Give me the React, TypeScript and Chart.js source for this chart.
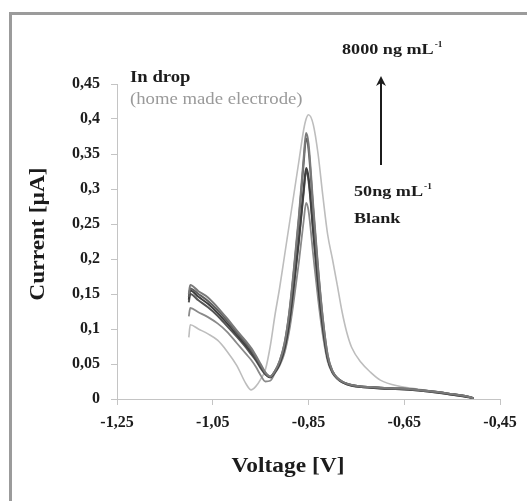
import { useEffect, useRef } from 'react';
import { Chart, registerables } from 'chart.js';

Chart.register(...registerables);

// Shared voltage grid [V]
const VOLTAGE = [
  -1.1, -1.097, -1.08, -1.06, -1.04, -1.02, -1.0, -0.98, -0.97, -0.96,
  -0.95, -0.94, -0.93, -0.92, -0.91, -0.9, -0.89, -0.88, -0.87, -0.86,
  -0.855, -0.85, -0.84, -0.83, -0.82, -0.81, -0.8, -0.79, -0.78, -0.77,
  -0.76, -0.74, -0.72, -0.7, -0.66, -0.62, -0.58, -0.55, -0.52, -0.505,
];

// Currents [µA]
const CURRENT_1 = [
  0.15, 0.163, 0.154, 0.145, 0.131, 0.115, 0.098, 0.082, 0.073, 0.062,
  0.05, 0.038, 0.032, 0.04, 0.055, 0.08, 0.125, 0.19, 0.262, 0.345,
  0.38, 0.365, 0.275, 0.188, 0.115, 0.063, 0.04, 0.03, 0.025, 0.022,
  0.02, 0.018, 0.017, 0.016, 0.015, 0.013, 0.01, 0.007, 0.004, 0.001,
];
const CURRENT_2 = [
  0.146, 0.158, 0.15, 0.14, 0.127, 0.112, 0.095, 0.079, 0.07, 0.059,
  0.048, 0.037, 0.032, 0.04, 0.054, 0.079, 0.123, 0.186, 0.257, 0.338,
  0.372, 0.357, 0.269, 0.184, 0.113, 0.062, 0.04, 0.03, 0.025, 0.022,
  0.02, 0.018, 0.017, 0.016, 0.015, 0.013, 0.01, 0.007, 0.004, 0.001,
];
const CURRENT_3 = [
  0.142, 0.155, 0.146, 0.136, 0.123, 0.108, 0.092, 0.076, 0.067, 0.057,
  0.046, 0.036, 0.031, 0.039, 0.051, 0.073, 0.111, 0.167, 0.229, 0.3,
  0.33, 0.317, 0.24, 0.165, 0.103, 0.058, 0.039, 0.029, 0.024, 0.021,
  0.019, 0.017, 0.016, 0.015, 0.014, 0.012, 0.009, 0.006, 0.003, 0.001,
];
const CURRENT_4 = [
  0.138, 0.15, 0.141, 0.131, 0.119, 0.104, 0.089, 0.073, 0.064, 0.055,
  0.044, 0.035, 0.031, 0.038, 0.051, 0.072, 0.11, 0.165, 0.226, 0.296,
  0.325, 0.312, 0.237, 0.163, 0.102, 0.058, 0.038, 0.03, 0.025, 0.022,
  0.02, 0.018, 0.017, 0.016, 0.015, 0.013, 0.01, 0.007, 0.004, 0.001,
];
const CURRENT_5 = [
  0.118, 0.13, 0.124, 0.117, 0.108, 0.096, 0.08, 0.064, 0.056, 0.046,
  0.034, 0.025, 0.026, 0.037, 0.048, 0.066, 0.098, 0.144, 0.196, 0.255,
  0.28, 0.269, 0.205, 0.143, 0.091, 0.054, 0.037, 0.029, 0.024, 0.021,
  0.019, 0.017, 0.016, 0.015, 0.014, 0.012, 0.009, 0.006, 0.003, 0.001,
];
const CURRENT_6 = [
  0.088, 0.106, 0.1, 0.093, 0.084, 0.068, 0.048, 0.021, 0.013, 0.018,
  0.028, 0.042, 0.075, 0.12, 0.16, 0.205, 0.25, 0.295, 0.34, 0.385,
  0.4, 0.406, 0.392, 0.35, 0.29, 0.235, 0.2, 0.163, 0.125, 0.095,
  0.074, 0.052, 0.038, 0.027, 0.018, 0.014, 0.01, 0.007, 0.004, 0.001,
];

const SERIES = [CURRENT_1, CURRENT_2, CURRENT_3, CURRENT_4, CURRENT_5, CURRENT_6];
const SERIES_COLORS = ['#7a7a7a', '#5e5e5e', '#3f3f3f', '#555555', '#8a8a8a', '#bdbdbd'];
const SERIES_WIDTHS = [2, 2, 2, 2, 1.8, 1.6];

const X_TICKS = [-1.25, -1.05, -0.85, -0.65, -0.45];
const X_TICK_LABELS = ['-1,25', '-1,05', '-0,85', '-0,65', '-0,45'];
const Y_TICKS = [0, 0.05, 0.1, 0.15, 0.2, 0.25, 0.3, 0.35, 0.4, 0.45];
const Y_TICK_LABELS = ['0', '0,05', '0,1', '0,15', '0,2', '0,25', '0,3', '0,35', '0,4', '0,45'];

const X_TITLE = 'Voltage [V]';
const Y_TITLE = 'Current [µA]';

const SERIF = "'Liberation Serif', 'Times New Roman', serif";
const SX = 1.17;

function drawText(
  ctx: CanvasRenderingContext2D,
  text: string,
  x: number,
  y: number,
  font: string,
  color: string,
  align: CanvasTextAlign = 'left',
  rotate = 0,
): number {
  ctx.save();
  ctx.translate(x, y);
  if (rotate) ctx.rotate(rotate);
  ctx.scale(SX, 1);
  ctx.font = font;
  ctx.fillStyle = color;
  ctx.textAlign = align;
  ctx.textBaseline = 'middle';
  ctx.fillText(text, 0, 0);
  const w = ctx.measureText(text).width * SX;
  ctx.restore();
  return w;
}

const annotationPlugin = {
  id: 'annotations',
  afterDraw(chart: any) {
    const ctx: CanvasRenderingContext2D = chart.ctx;
    const dark = '#1c1c1c';
    // axis titles
    drawText(ctx, X_TITLE, 288, 467, `bold 20px ${SERIF}`, dark, 'center');
    drawText(ctx, Y_TITLE, 39, 234, `bold 20px ${SERIF}`, dark, 'center', -Math.PI / 2);
    // in drop note
    drawText(ctx, 'In drop', 130, 78, `bold 16px ${SERIF}`, dark);
    drawText(ctx, '(home made electrode)', 130, 100, `16px ${SERIF}`, '#9a9a9a');
    // concentration labels
    let w = drawText(ctx, '8000 ng mL', 342, 50, `bold 15.5px ${SERIF}`, dark);
    drawText(ctx, '-1', 342 + w + 1, 45, `bold 8px ${SERIF}`, dark);
    w = drawText(ctx, '50ng mL', 354, 192, `bold 15.5px ${SERIF}`, dark);
    drawText(ctx, '-1', 354 + w + 1, 187, `bold 8px ${SERIF}`, dark);
    drawText(ctx, 'Blank', 354, 219, `bold 15.5px ${SERIF}`, dark);
    // arrow
    ctx.save();
    ctx.strokeStyle = dark;
    ctx.fillStyle = dark;
    ctx.lineWidth = 2;
    ctx.beginPath();
    ctx.moveTo(381, 165);
    ctx.lineTo(381, 82);
    ctx.stroke();
    ctx.beginPath();
    ctx.moveTo(381, 76);
    ctx.lineTo(376, 86);
    ctx.lineTo(381, 83);
    ctx.lineTo(386, 86);
    ctx.closePath();
    ctx.fill();
    ctx.restore();
  },
};

export default function App() {
  const canvasRef = useRef<HTMLCanvasElement | null>(null);

  useEffect(() => {
    const canvas = canvasRef.current;
    if (!canvas) return;
    const datasets = SERIES.map((s, i) => ({
      label: `Series ${i + 1}`,
      data: VOLTAGE.map((v, j) => ({ x: v, y: s[j] })),
      borderColor: SERIES_COLORS[i],
      borderWidth: SERIES_WIDTHS[i],
      pointRadius: 0,
      fill: false,
      cubicInterpolationMode: 'monotone' as const,
    }));

    const chart = new Chart(canvas, {
      type: 'line',
      data: { datasets },
      options: {
        animation: false,
        responsive: false,
        devicePixelRatio: 1,
        layout: { padding: { left: 0, top: 84, right: 27, bottom: 0 } },
        plugins: { legend: { display: false }, tooltip: { enabled: false } },
        scales: {
          x: {
            type: 'linear',
            min: -1.25,
            max: -0.45,
            afterBuildTicks: (s: any) => {
              s.ticks = X_TICKS.map((v) => ({ value: v }));
            },
            afterFit: (s: any) => {
              s.height = 102;
            },
            ticks: {
              callback: (_v: any, i: number) => X_TICK_LABELS[i],
              font: { family: SERIF, size: 16, weight: 'bold' },
              color: '#1c1c1c',
              padding: 8,
              maxRotation: 0,
              autoSkip: false,
            },
            grid: { drawOnChartArea: false, drawTicks: true, tickLength: 6, color: '#c4c4c4' },
            border: { display: true, color: '#c4c4c4', width: 1 },
          },
          y: {
            type: 'linear',
            min: 0,
            max: 0.45,
            afterBuildTicks: (s: any) => {
              s.ticks = Y_TICKS.map((v) => ({ value: v }));
            },
            afterFit: (s: any) => {
              s.width = 117;
            },
            ticks: {
              callback: (_v: any, i: number) => Y_TICK_LABELS[i],
              font: { family: SERIF, size: 16, weight: 'bold' },
              color: '#1c1c1c',
              padding: 11,
              autoSkip: false,
            },
            grid: { drawOnChartArea: false, drawTicks: true, tickLength: 6, color: '#c4c4c4' },
            border: { display: true, color: '#c4c4c4', width: 1 },
          },
        },
      },
      plugins: [annotationPlugin],
    });
    return () => chart.destroy();
  }, []);

  return (
    <div
      style={{
        position: 'fixed',
        left: 0,
        top: 0,
        width: 527,
        height: 501,
        overflow: 'hidden',
        background: '#ffffff',
      }}
    >
      <div
        style={{
          position: 'absolute',
          left: 9,
          top: 12,
          width: 700,
          height: 700,
          borderLeft: '3px solid #9b9b9b',
          borderTop: '3px solid #9b9b9b',
        }}
      />
      <canvas
        ref={canvasRef}
        width={527}
        height={501}
        style={{ position: 'absolute', left: 0, top: 0, display: 'block' }}
      />
    </div>
  );
}
